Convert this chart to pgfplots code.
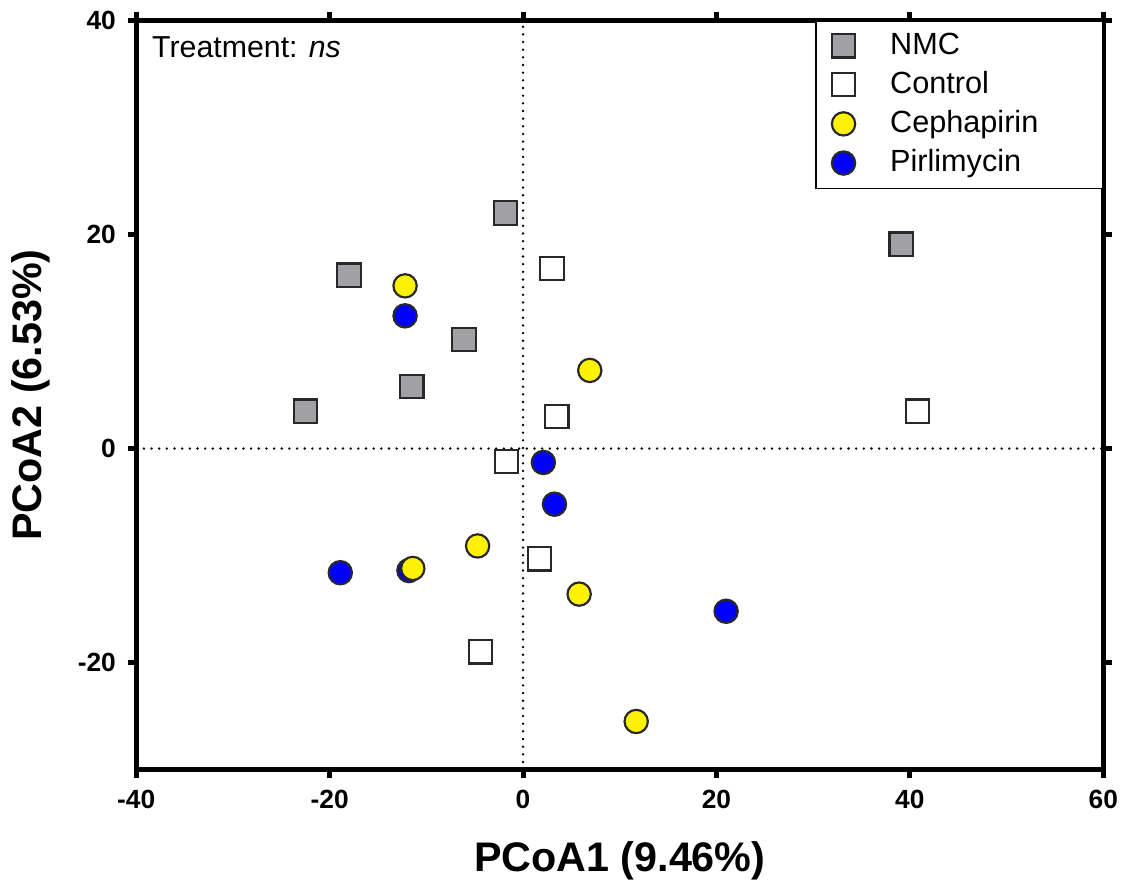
\documentclass[border=0pt]{standalone}
\usepackage{pgfplots}
\pgfplotsset{compat=1.18}
\usepackage{fontspec}
\setmainfont{Liberation Sans}

\definecolor{nmcgray}{RGB}{160,160,165}
\definecolor{edge}{RGB}{40,40,40}

\begin{document}
\begin{tikzpicture}
\begin{axis}[
  scale only axis,
  width=290.4pt, height=225pt,
  xmin=-40, xmax=60, ymin=-30, ymax=40,
  xtick={-40,-20,0,20,40,60},
  ytick={-20,0,20,40},
  tick align=outside,
  major tick length=2.6pt,
  axis line style={line width=1.5pt},
  every tick/.style={line width=1.5pt, black},
  tick label style={font=\fontsize{7.9}{9}\selectfont\bfseries},
  /pgf/number format/assume math mode=true,
  xlabel={PCoA1 (9.46\%)},
  ylabel={PCoA2 (6.53\%)},
  label style={font=\fontsize{12.4}{14}\selectfont\bfseries},
  xlabel style={yshift=-3pt},
  ylabel style={yshift=1.6pt},
  clip=false,
  legend style={at={(1,1)}, anchor=north east, draw=black, line width=0.4pt,
    font=\fontsize{9.2}{11}\selectfont, inner xsep=4.8pt, inner ysep=1.5pt,
    row sep=-0.4pt,
    /tikz/every odd column/.append style={column sep=8.5pt},
    /tikz/column 2/.style={text width=57pt}},
  legend cell align=left,
]
% reference lines
\draw[line width=0.8pt, line cap=round, dash pattern=on 0pt off 2.3pt]
  (axis cs:0,-30) -- (axis cs:0,40);
\draw[line width=0.8pt, line cap=round, dash pattern=on 0pt off 2.3pt]
  (axis cs:-40,0) -- (axis cs:60,0);

\addplot[only marks, mark=square*, mark size=3.5pt,
  mark options={fill=nmcgray, draw=edge, line width=0.65pt}] coordinates {
  (-1.8,22.0) (-18.0,16.2) (-6.1,10.2) (-11.5,5.8) (-22.5,3.5) (39.1,19.1)};
\addlegendentry{NMC}

\addplot[only marks, mark=square*, mark size=3.5pt,
  mark options={fill=white, draw=edge, line width=0.65pt}] coordinates {
  (3.0,16.8) (3.5,3.0) (-1.7,-1.2) (1.7,-10.3) (-4.4,-19.0) (40.8,3.5)};
\addlegendentry{Control}

\addplot[only marks, mark=*, mark size=3.5pt,
  mark options={fill=yellow, draw=edge, line width=0.65pt}] coordinates {
  (-12.2,15.2) (6.9,7.3) (-4.7,-9.1) (5.8,-13.6) (11.7,-25.5)};
\addlegendentry{Cephapirin}

\addplot[only marks, mark=*, mark size=3.5pt,
  mark options={fill=blue, draw=edge, line width=0.65pt}] coordinates {
  (-12.2,12.4) (2.1,-1.3) (3.25,-5.2) (-18.9,-11.6) (-11.8,-11.4) (21.0,-15.2)};
\addlegendentry{Pirlimycin}

% the yellow point drawn over the blue one near (-11.6,-11.3)
\addplot[only marks, mark=*, mark size=3.5pt, forget plot,
  mark options={fill=yellow, draw=edge, line width=0.65pt}] coordinates {
  (-11.4,-11.2)};

\node[anchor=north west, inner sep=0pt, font=\fontsize{9.1}{11}\selectfont]
  at ([xshift=4.6pt, yshift=-4.6pt]rel axis cs:0,1) {Treatment: \textit{ns}};
\end{axis}
\end{tikzpicture}
\end{document}
